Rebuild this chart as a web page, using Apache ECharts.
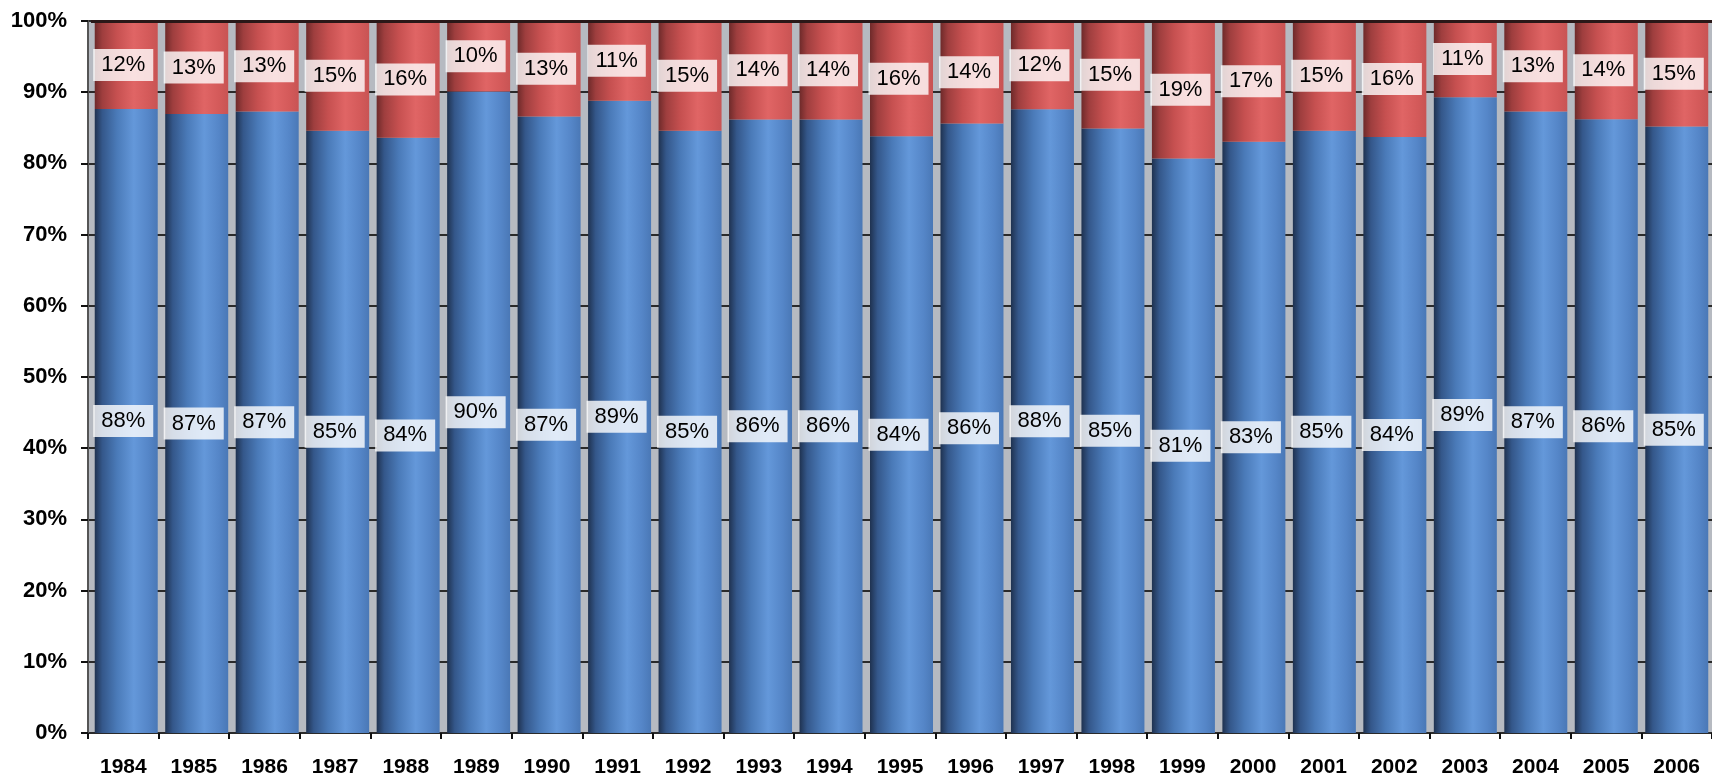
<!DOCTYPE html>
<html>
<head>
<meta charset="utf-8">
<script src="https://cdn.jsdelivr.net/npm/echarts@6/dist/echarts.min.js"></script>
<style>
html,body{margin:0;padding:0;background:#fff;}
#chart{width:1712px;height:778px;}
</style>
</head>
<body>
<div id="chart"></div>
<script>
var years = ['1984','1985','1986','1987','1988','1989','1990','1991','1992','1993','1994','1995','1996','1997','1998','1999','2000','2001','2002','2003','2004','2005','2006'];
var blueShare = [87.65,86.95,87.3,84.6,83.6,90.1,86.6,88.8,84.6,86.15,86.15,83.8,85.6,87.6,84.9,80.7,83.05,84.6,83.7,89.3,87.3,86.2,85.2];
var redShare = [12.35,13.05,12.7,15.4,16.4,9.9,13.4,11.2,15.4,13.85,13.85,16.2,14.4,12.4,15.1,19.3,16.95,15.4,16.3,10.7,12.7,13.8,14.8];
var yTicks = [0,10,20,30,40,50,60,70,80,90,100];

var chart = echarts.init(document.getElementById('chart'), null, {renderer:'canvas'});
var FONT = '"Liberation Sans", Arial, sans-serif';

var blueGrad = new echarts.graphic.LinearGradient(0,0,1,0,[
  {offset:0, color:'#1f3250'},
  {offset:0.12, color:'#34578a'},
  {offset:0.35, color:'#4a7ab8'},
  {offset:0.62, color:'#6498da'},
  {offset:0.85, color:'#5586c8'},
  {offset:1, color:'#4a78b6'}
]);
var redGrad = new echarts.graphic.LinearGradient(0,0,1,0,[
  {offset:0, color:'#6e2a2a'},
  {offset:0.12, color:'#9e3e3e'},
  {offset:0.35, color:'#c65050'},
  {offset:0.62, color:'#e06565'},
  {offset:0.85, color:'#d45a5a'},
  {offset:1, color:'#c85454'}
]);

var labelCfg = {
  show:true,
  position:'inside',
  offset:[-3,0],
  formatter:function(p){return Math.round(p.value)+'%';},
  fontFamily:FONT,
  fontSize:22,
  color:'#000',
  backgroundColor:'rgba(255,255,255,0.8)',
  padding:[5,8,5,8]
};

var option = {
  animation:false,
  backgroundColor:'#fff',
  grid:[
    {left:88, top:21, width:1633, height:712, show:true, backgroundColor:'#b6bac1', borderWidth:0},
    {left:91, top:21, width:1633, height:712, show:false}
  ],
  xAxis:[
    {type:'category', gridIndex:0, data:years,
     axisLine:{show:false},
     axisTick:{show:true, length:6, lineStyle:{color:'#111', width:2}},
     axisLabel:{fontFamily:FONT, fontSize:21, fontWeight:'bold', color:'#000', margin:24},
     splitLine:{show:false}},
    {type:'category', gridIndex:1, data:years, show:false}
  ],
  yAxis:[
    {type:'value', gridIndex:0, min:0, max:100, interval:10,
     axisLine:{show:true, lineStyle:{color:'#555', width:2}},
     axisTick:{show:true, length:7, lineStyle:{color:'#111', width:2}},
     axisLabel:{fontFamily:FONT, fontSize:22, fontWeight:'bold', color:'#000', margin:21,
       formatter:function(v){return yTicks.indexOf(v)>=0 ? v+'%' : '';}},
     splitLine:{show:true, lineStyle:{color:'#2a2a2a', width:2}}},
    {type:'value', gridIndex:1, min:0, max:100, show:false}
  ],
  series:[
    {name:'blue', type:'bar', stack:'s', xAxisIndex:1, yAxisIndex:1,
     data:blueShare, barWidth:63,
     itemStyle:{color:blueGrad}, label:labelCfg},
    {name:'red', type:'bar', stack:'s', xAxisIndex:1, yAxisIndex:1,
     data:redShare, barWidth:63,
     itemStyle:{color:redGrad}, label:labelCfg,
     markLine:{silent:true, symbol:'none', label:{show:false},
       lineStyle:{color:'#2a1818', width:3, type:'solid'},
       data:[{yAxis:100}]}}
  ]
};
chart.setOption(option);
</script>
</body>
</html>
